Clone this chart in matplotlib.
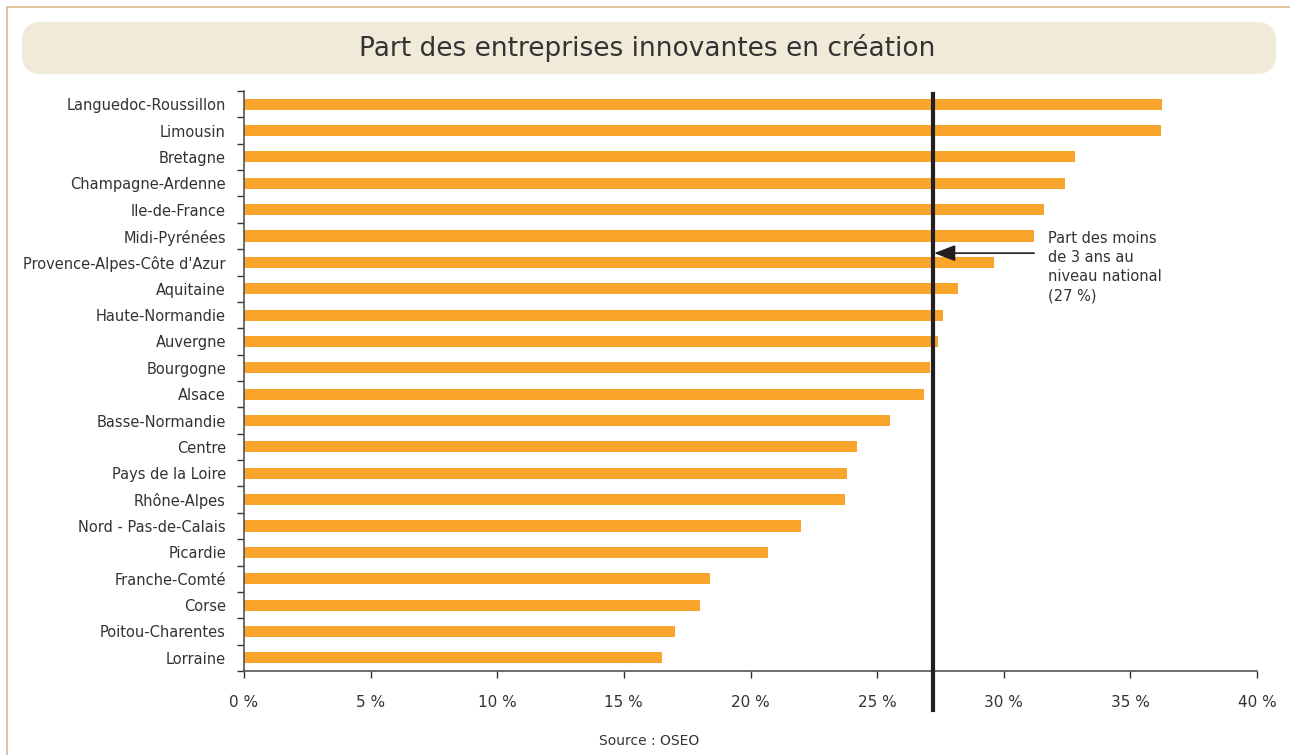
import numpy as np
import matplotlib.pyplot as plt
from matplotlib.patches import FancyBboxPatch, Rectangle

# Données (part en %)
regions = ['Languedoc-Roussillon', 'Limousin', 'Bretagne', 'Champagne-Ardenne',
           'Ile-de-France', 'Midi-Pyrénées', "Provence-Alpes-Côte d'Azur",
           'Aquitaine', 'Haute-Normandie', 'Auvergne', 'Bourgogne', 'Alsace',
           'Basse-Normandie', 'Centre', 'Pays de la Loire', 'Rhône-Alpes',
           'Nord - Pas-de-Calais', 'Picardie', 'Franche-Comté', 'Corse',
           'Poitou-Charentes', 'Lorraine']
valeurs = [36.25, 36.2, 32.8, 32.4, 31.6, 31.2, 29.6, 28.2, 27.6, 27.4, 27.1,
           26.85, 25.5, 24.2, 23.8, 23.75, 22.0, 20.7, 18.4, 18.0, 17.0, 16.5]
ticks_x = [0, 5, 10, 15, 20, 25, 30, 35, 40]
niveau_national = 27.2

orange = '#F9A52B'
texte = '#333333'

fig = plt.figure(figsize=(12.9, 7.55), dpi=100)

# cadre extérieur
fig.patches.append(Rectangle((7 / 1290, -0.1), 1.2, 1 - 7 / 755 + 0.1,
                             transform=fig.transFigure, fill=False,
                             edgecolor='#D9B98A', linewidth=1.2))
# bandeau du titre
fig.patches.append(FancyBboxPatch((22 / 1290, 1 - 74 / 755), 1254 / 1290, 52 / 755,
                                  boxstyle='round,pad=0,rounding_size=0.015',
                                  transform=fig.transFigure, facecolor='#F1EAD9',
                                  edgecolor='none', mutation_aspect=1290 / 755))
fig.text(0.502, 1 - 48 / 755, 'Part des entreprises innovantes en création',
         ha='center', va='center', fontsize=19, color=texte)

ax = fig.add_axes([244 / 1290, 1 - 671 / 755, 1013 / 1290, 580 / 755])
y = np.arange(len(regions))
ax.barh(y, valeurs, height=0.42, color=orange)

ax.set_xlim(0, 40)
ax.set_ylim(len(regions) - 0.5, -0.5)
ax.set_xticks(ticks_x)
ax.set_xticklabels([f'{t} %' for t in ticks_x], fontsize=11, color=texte)
ax.set_yticks(y)
ax.set_yticklabels(regions, fontsize=10.5, color=texte)
ax.set_yticks(np.arange(len(regions) + 1) - 0.5, minor=True)
ax.tick_params(axis='y', which='major', length=0, pad=13)
ax.tick_params(axis='y', which='minor', length=5, width=1, color='#333333')
ax.tick_params(axis='x', length=5, width=1, color='#333333', pad=12)
for s in ['top', 'right']:
    ax.spines[s].set_visible(False)
for s in ['left', 'bottom']:
    ax.spines[s].set_color('#555555')
    ax.spines[s].set_linewidth(1.2)

# ligne du niveau national
ax.axvline(niveau_national, ymin=-0.067, ymax=0.995, color='#231F20',
           linewidth=3, clip_on=False, zorder=5)
ax.annotate('', xy=(niveau_national + 0.05, 5.65), xytext=(31.2, 5.65),
            arrowprops=dict(arrowstyle='-|>,head_length=1.3,head_width=0.5',
                            color='#231F20', linewidth=1.2, shrinkA=0, shrinkB=0),
            zorder=6)
ax.text(31.75, 4.8, 'Part des moins\nde 3 ans au\nniveau national\n(27 %)',
        fontsize=10.5, color=texte, va='top', ha='left', linespacing=1.35)

fig.text(649 / 1290, 1 - 741 / 755, 'Source : OSEO', ha='center', va='center',
         fontsize=10, color=texte)

fig.savefig('out.png', dpi=100)
